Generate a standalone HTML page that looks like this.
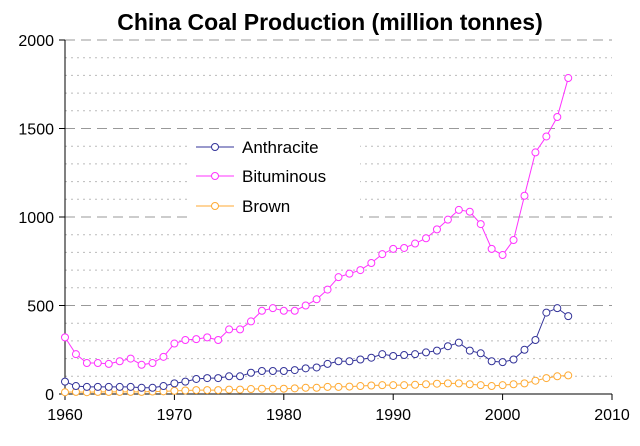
<!DOCTYPE html>
<html><head><meta charset="utf-8"><style>
body{margin:0;background:#fff;font-family:"Liberation Sans",Arial,sans-serif}
</style></head><body>
<svg id="chart" width="640" height="446" xmlns="http://www.w3.org/2000/svg" style="display:block">
<text x="330" y="30" text-anchor="middle" font-size="23" font-weight="bold" font-family="Liberation Sans, Arial, sans-serif">China Coal Production (million tonnes)</text>
<g id="grid"></g><g id="axes"></g><g id="series"></g>
<g>
<rect x="190" y="130" width="170" height="95" fill="#fff"/>
<g><line x1="196" y1="147" x2="234" y2="147" stroke="#333399"/><circle cx="215" cy="147" r="3.5" fill="#fff" stroke="#333399"/><text x="242" y="153" font-size="17">Anthracite</text></g>
<g><line x1="196" y1="176" x2="234" y2="176" stroke="#FF33FF"/><circle cx="215" cy="176" r="3.5" fill="#fff" stroke="#FF33FF"/><text x="242" y="182" font-size="17">Bituminous</text></g>
<g><line x1="196" y1="206" x2="234" y2="206" stroke="#FFAA33"/><circle cx="215" cy="206" r="3.5" fill="#fff" stroke="#FFAA33"/><text x="242" y="212" font-size="17">Brown</text></g>
</g>
</svg>
<script>
const startYear = 1960;
const anthracite = [70,45,40,40,40,40,40,35,35,45,60,70,85,90,90,100,100,120,130,130,130,135,145,150,170,185,185,195,205,225,215,220,225,235,245,270,290,245,230,185,180,195,250,305,460,485,440];
const bituminous = [320,225,175,175,170,185,200,165,175,210,285,305,310,320,305,365,365,410,470,485,470,470,500,535,590,660,680,700,740,790,820,825,850,880,930,985,1040,1030,960,820,785,870,1120,1365,1455,1565,1785];
const brown = [10,12,10,12,12,12,12,12,14,15,18,20,22,22,22,25,25,28,30,30,30,32,35,35,40,40,42,45,48,50,50,50,52,55,58,60,60,55,50,45,50,55,60,75,90,100,105];
const xTicks = [1960,1970,1980,1990,2000,2010];
const yTicks = [0,500,1000,1500,2000];
const NS="http://www.w3.org/2000/svg";
const X=v=>65+(v-1960)*(547/50), Y=v=>394-v*(354/2000);
function mk(t,a,p){const e=document.createElementNS(NS,t);for(const k in a)e.setAttribute(k,a[k]);p.appendChild(e);return e;}
const grid=document.getElementById('grid'),axes=document.getElementById('axes'),ser=document.getElementById('series');
for(let v=100;v<=2000;v+=100){
  const major=v%500===0;
  const l=mk('line',{x1:65,x2:612,y1:Y(v),y2:Y(v),stroke:major?'#999':'#bbb','stroke-dasharray':major?'10,6':'2,4','stroke-width':1},grid);
  
  
}
const ya=mk('line',{x1:65,x2:65,y1:40,y2:394,stroke:'#000'},axes);

const xa=mk('line',{x1:65,x2:612,y1:394,y2:394,stroke:'#000'},axes);

yTicks.forEach(v=>{
  mk('line',{x1:59,x2:65,y1:Y(v),y2:Y(v),stroke:'#000'},axes);
  const t=mk('text',{x:54,y:Y(v)+6,'text-anchor':'end','font-size':16},axes);t.textContent=v;
  
});
xTicks.forEach(v=>{
  mk('line',{x1:X(v),x2:X(v),y1:394,y2:400,stroke:'#000'},axes);
  const t=mk('text',{x:X(v),y:420,'text-anchor':'middle','font-size':16},axes);t.textContent=v;
  
});
function draw(data,color,name){
  const g=mk('g',{},ser);
  
  const pl=mk('polyline',{points:data.map((v,i)=>X(startYear+i)+','+Y(v)).join(' '),fill:'none',stroke:color,'stroke-width':1},g);
  
  data.forEach((v,i)=>{
    const c=mk('circle',{cx:X(startYear+i),cy:Y(v),r:3.5,fill:'#fff',stroke:color,'stroke-width':1},g);
    
    
  });
}
draw(brown,'#FFAA33','brown');
draw(anthracite,'#333399','anthracite');
draw(bituminous,'#FF33FF','bituminous');
</script>
</body></html>
